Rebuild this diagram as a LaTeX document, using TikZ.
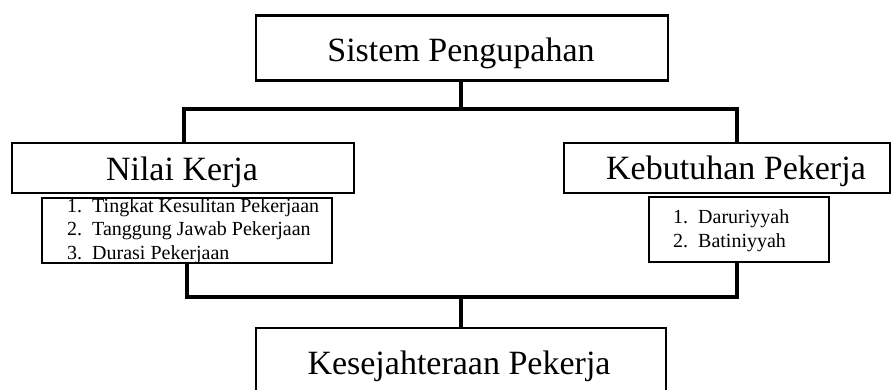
\documentclass[tikz,border=0pt]{standalone}
\usepackage{fontspec}
\setmainfont{Liberation Serif}
\begin{document}
\begin{tikzpicture}[x=1pt,y=-1pt,
  bigbox/.style={draw, line width=2.4pt, inner sep=0pt},
  listbox/.style={draw, line width=1.1pt, inner sep=0pt},
  bigtext/.style={anchor=base, inner sep=0pt, font=\fontsize{34}{40}\selectfont},
  listtext/.style={anchor=base west, inner sep=0pt, font=\fontsize{20}{23.5}\selectfont, align=left},
  conn/.style={line width=4.2pt, line join=miter, line cap=butt}]
\useasboundingbox (0,0) rectangle (893,390);
\clip (0,0) rectangle (893,390);

% boxes
\node[bigbox, minimum width=412pt, minimum height=65pt] (top) at (462,48) {};
\node[bigbox, minimum width=342pt, minimum height=50pt] (nk) at (183,168) {};
\node[listbox, minimum width=290pt, minimum height=65pt] (l1) at (187,230.5) {};
\node[bigbox, minimum width=326pt, minimum height=50pt] (kp) at (727,168) {};
\node[listbox, minimum width=180pt, minimum height=65pt] (l2) at (739,229.5) {};
\node[bigbox, minimum width=410pt, minimum height=72pt] (bot) at (461,364) {};

% titles
\node[bigtext] (toptxt) at (461,62) {Sistem Pengupahan};
\node[bigtext] (nktxt) at (182,181) {Nilai Kerja};
\node[bigtext] (kptxt) at (736,179) {Kebutuhan Pekerja};
\node[bigtext] (bottxt) at (459,374) {Kesejahteraan Pekerja};

% list items
\node[listtext] (n1) at (67,212) {1.};
\node[listtext] (t1) at (92,212) {Tingkat Kesulitan Pekerjaan};
\node[listtext] (n2) at (67,235.5) {2.};
\node[listtext] (t2) at (92,235.5) {Tanggung Jawab Pekerjaan};
\node[listtext] (n3) at (67,259) {3.};
\node[listtext] (t3) at (92,259) {Durasi Pekerjaan};

\node[listtext] (m1) at (673,223.5) {1.};
\node[listtext] (d1) at (698,223.5) {Daruriyyah};
\node[listtext] (m2) at (673,247) {2.};
\node[listtext] (d2) at (698,247) {Batiniyyah};

% connectors
\coordinate (jtop) at (461,109);
\coordinate (jbot) at (461,297);
\draw[conn] (top.south -| jtop) -- (jtop);
\draw[conn] ([xshift=1pt]nk.north) |- (jtop) -| ([xshift=10pt]kp.north);
\draw[conn] (l1.south) |- (jbot) -| ([xshift=-2pt]l2.south);
\draw[conn] (jbot) -- (bot.north -| jbot);
\end{tikzpicture}
\end{document}
